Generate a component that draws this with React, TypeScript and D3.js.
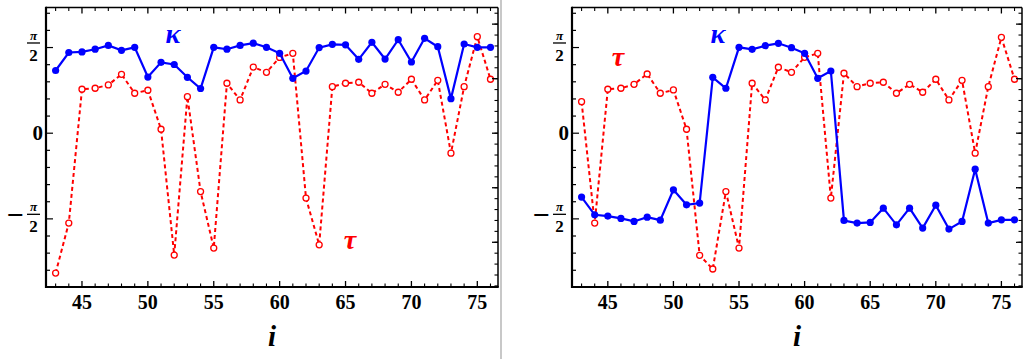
import React from "react";
import * as d3 from "d3";

// residue index
const idx = d3.range(43, 77);

// left panel
const kappaLeft = [1.15, 1.48, 1.49, 1.54, 1.61, 1.52, 1.575, 1.03, 1.3, 1.26, 1.025, 0.82, 1.575, 1.54, 1.61, 1.65, 1.575, 1.465, 1.007, 1.14, 1.57, 1.63, 1.62, 1.355, 1.667, 1.36, 1.715, 1.306, 1.74, 1.586, 0.634, 1.636, 1.575, 1.575];
const tauLeft = [-2.564, -1.648, 0.806, 0.824, 0.885, 1.08, 0.733, 0.788, 0.073, -2.234, 0.67, -1.07, -2.106, 0.916, 0.61, 1.212, 1.117, 1.39, 1.465, -1.19, -2.046, 0.854, 0.916, 0.934, 0.733, 0.897, 0.751, 0.989, 0.61, 0.97, -0.366, 0.854, 1.77, 0.989];

// right panel
const kappaRight = [-1.172, -1.496, -1.52, -1.563, -1.618, -1.54, -1.594, -1.038, -1.313, -1.282, 1.025, 0.824, 1.575, 1.538, 1.605, 1.648, 1.568, 1.465, 1.007, 1.141, -1.6, -1.648, -1.636, -1.374, -1.68, -1.374, -1.74, -1.319, -1.758, -1.618, -0.66, -1.648, -1.588, -1.588];
const tauRight = [0.579, -1.648, 0.806, 0.824, 0.897, 1.086, 0.733, 0.793, 0.073, -2.24, -2.49, -1.07, -2.106, 0.916, 0.61, 1.209, 1.117, 1.392, 1.465, -1.19, 1.099, 0.854, 0.916, 0.934, 0.733, 0.897, 0.751, 0.989, 0.61, 0.97, -0.366, 0.854, 1.758, 0.989];

const xTicks = [45, 50, 55, 60, 65, 70, 75];
const xDomain = [42.27, 76.57];
const yDomain = [-2.82, 2.305];

const BLUE = "#0000ff";
const RED = "#ff0000";
const FONT = "'Liberation Serif', 'DejaVu Serif', serif";

type PanelProps = {
  left: number;
  right: number;
  kappa: number[];
  tau: number[];
  kappaLabel: [number, number];
  tauLabel: [number, number];
};

const Panel = ({ left, right, kappa, tau, kappaLabel, tauLabel }: PanelProps) => {
  const top = 7.5;
  const bottom = 287;
  const x = d3.scaleLinear().domain(xDomain).range([left, right]);
  const y = d3.scaleLinear().domain(yDomain).range([bottom, top]);

  const kPts = idx.map((d, i) => [x(d), y(kappa[i])] as [number, number]);
  const tPts = idx.map((d, i) => [x(d), y(tau[i])] as [number, number]);
  const line = d3.line();

  const minorX = d3.range(43, 77).filter((d) => d % 5 !== 0);
  const leftMinor = d3.range(-8, 8).map((k) => (k * Math.PI) / 10).filter((v) => v > yDomain[0] && v < yDomain[1]);
  const rightMinor = d3.range(-14, 12).map((k) => k * 0.2).filter((v) => v > yDomain[0] && v < yDomain[1]);
  const rightMajor = [-2, -1, 0, 1, 2];

  const fracLabel = (val: number, neg: boolean) => {
    const ty = y(val);
    const cx = left - 12.5;
    return (
      <g key={"f" + val}>
        {neg && (
          <text x={left - 31} y={ty + 6.5} textAnchor="middle" fontSize={30} fontWeight="bold" fontFamily={FONT}>−</text>
        )}
        <text x={cx} y={ty - 8} textAnchor="middle" fontSize={13} fontStyle="italic" fontWeight="bold" fontFamily={FONT}>π</text>
        <rect x={cx - 6.5} y={ty - 5.2} width={13} height={1.3} fill="#000" />
        <text x={cx} y={ty + 13.5} textAnchor="middle" fontSize={17} fontWeight="bold" fontFamily={FONT}>2</text>
      </g>
    );
  };

  return (
    <g>
      {/* data */}
      <path d={line(tPts) || ""} fill="none" stroke={RED} strokeWidth={2} strokeDasharray="4,3" />
      {tPts.map((p, i) => (
        <circle key={"t" + i} cx={p[0]} cy={p[1]} r={3} fill="#fff" stroke={RED} strokeWidth={1.3} />
      ))}
      <path d={line(kPts) || ""} fill="none" stroke={BLUE} strokeWidth={2.2} />
      {kPts.map((p, i) => (
        <circle key={"k" + i} cx={p[0]} cy={p[1]} r={3.6} fill={BLUE} />
      ))}

      {/* frame */}
      <line x1={left} x2={right} y1={top} y2={top} stroke="#000" strokeWidth={1.5} />
      <line x1={right} x2={right} y1={top} y2={bottom} stroke="#000" strokeWidth={1.5} />
      <line x1={left} x2={left} y1={top - 0.75} y2={bottom + 1} stroke="#000" strokeWidth={2.2} />
      <line x1={left - 1} x2={right + 0.75} y1={bottom} y2={bottom} stroke="#000" strokeWidth={2.2} />

      {/* x ticks */}
      {xTicks.map((t) => (
        <g key={"xt" + t}>
          <line x1={x(t)} x2={x(t)} y1={bottom} y2={bottom - 6} stroke="#000" strokeWidth={1.3} />
          <line x1={x(t)} x2={x(t)} y1={top} y2={top + 6} stroke="#000" strokeWidth={1.3} />
          <text x={x(t)} y={bottom + 22} textAnchor="middle" fontSize={20} fontWeight="bold" fontFamily={FONT}>{t}</text>
        </g>
      ))}
      {minorX.map((t) => (
        <g key={"xm" + t}>
          <line x1={x(t)} x2={x(t)} y1={bottom} y2={bottom - 3.5} stroke="#000" strokeWidth={1.1} />
          <line x1={x(t)} x2={x(t)} y1={top} y2={top + 3.5} stroke="#000" strokeWidth={1.1} />
        </g>
      ))}

      {/* left ticks, multiples of pi/10 */}
      {leftMinor.map((v, i) => {
        const major = Math.abs((v / (Math.PI / 2)) - Math.round(v / (Math.PI / 2))) < 1e-6;
        return <line key={"lm" + i} x1={left} x2={left + (major ? 7 : 4)} y1={y(v)} y2={y(v)} stroke="#000" strokeWidth={1.2} />;
      })}
      {fracLabel(Math.PI / 2, false)}
      {fracLabel(-Math.PI / 2, true)}
      <text x={left - 3} y={y(0) + 7} textAnchor="end" fontSize={21} fontWeight="bold" fontFamily={FONT}>0</text>

      {/* right ticks, auto */}
      {rightMinor.map((v, i) => (
        <line key={"rm" + i} x1={right} x2={right - 3.5} y1={y(v)} y2={y(v)} stroke="#000" strokeWidth={1.1} />
      ))}
      {rightMajor.map((v) => (
        <line key={"rM" + v} x1={right} x2={right - 6} y1={y(v)} y2={y(v)} stroke="#000" strokeWidth={1.3} />
      ))}

      {/* labels */}
      <text x={(left + right) / 2} y={346} textAnchor="middle" fontSize={29} fontStyle="italic" fontWeight="bold" fontFamily={FONT}>i</text>
      <text x={kappaLabel[0]} y={kappaLabel[1]} textAnchor="middle" fontSize={28} fontStyle="italic" fontWeight="bold" fill={BLUE} fontFamily={FONT}>κ</text>
      <text x={tauLabel[0]} y={tauLabel[1]} textAnchor="middle" fontSize={28} fontStyle="italic" fontWeight="bold" fill={RED} fontFamily={FONT}>τ</text>
    </g>
  );
};

export default function App() {
  return (
    <svg width={1026} height={359} style={{ position: "absolute", left: 0, top: 0, background: "#fff" }}>
      <rect width={1026} height={359} fill="#fff" />
      <Panel left={46} right={498} kappa={kappaLeft} tau={tauLeft} kappaLabel={[173, 43]} tauLabel={[350, 249]} />
      <line x1={501} x2={501} y1={0} y2={359} stroke="#c8c8c8" strokeWidth={2} />
      <Panel left={572} right={1022} kappa={kappaRight} tau={tauRight} kappaLabel={[718, 43]} tauLabel={[618, 66]} />
    </svg>
  );
}
